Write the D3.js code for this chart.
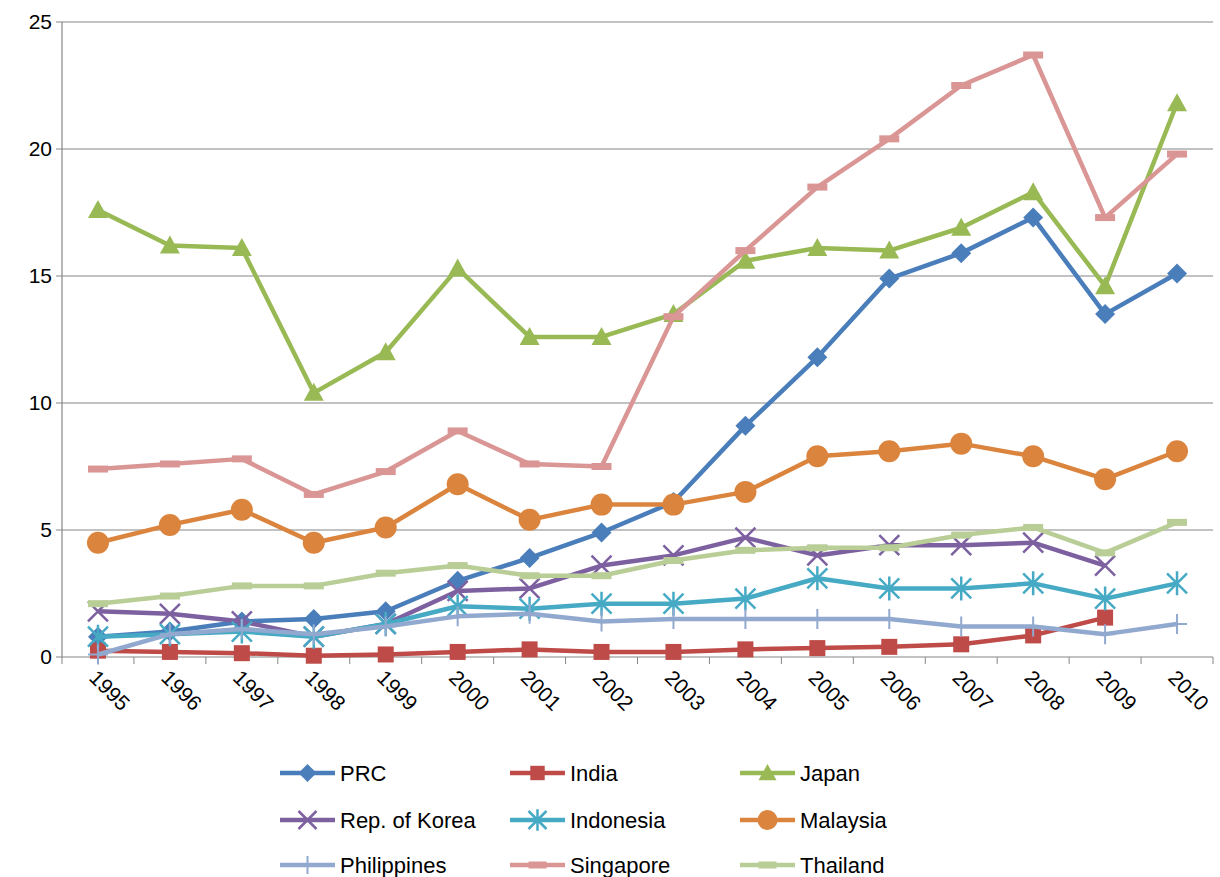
<!DOCTYPE html><html><head><meta charset="utf-8">
<script src="https://cdn.jsdelivr.net/npm/d3@7"></script>
<style>body{margin:0;background:#fff}text{font-family:"Liberation Sans",Arial,sans-serif;fill:#000}</style></head><body>
<svg id="c" width="1220" height="877"></svg>
<script>
const years=["1995","1996","1997","1998","1999","2000","2001","2002","2003","2004","2005","2006","2007","2008","2009","2010"];
const yTicks=[0,5,10,15,20,25];
const prc=[0.8,1.0,1.4,1.5,1.8,3.0,3.9,4.9,6.1,9.1,11.8,14.9,15.9,17.3,13.5,15.1];
const india=[0.25,0.2,0.15,0.05,0.1,0.2,0.3,0.2,0.2,0.3,0.35,0.4,0.5,0.85,1.55,null];
const japan=[17.6,16.2,16.1,10.4,12.0,15.3,12.6,12.6,13.5,15.6,16.1,16.0,16.9,18.3,14.6,21.8];
const korea=[1.8,1.7,1.4,0.8,1.3,2.6,2.7,3.6,4.0,4.7,4.0,4.4,4.4,4.5,3.6,null];
const indonesia=[0.8,0.9,1.0,0.8,1.3,2.0,1.9,2.1,2.1,2.3,3.1,2.7,2.7,2.9,2.3,2.9];
const malaysia=[4.5,5.2,5.8,4.5,5.1,6.8,5.4,6.0,6.0,6.5,7.9,8.1,8.4,7.9,7.0,8.1];
const philippines=[0.1,0.9,1.1,0.9,1.2,1.6,1.7,1.4,1.5,1.5,1.5,1.5,1.2,1.2,0.9,1.3];
const singapore=[7.4,7.6,7.8,6.4,7.3,8.9,7.6,7.5,13.4,16.0,18.5,20.4,22.5,23.7,17.3,19.8];
const thailand=[2.1,2.4,2.8,2.8,3.3,3.6,3.2,3.2,3.8,4.2,4.3,4.3,4.8,5.1,4.1,5.3];
const series=[
 {name:"PRC",v:prc,c:"#4a7ebb",m:"diamond"},
 {name:"India",v:india,c:"#be4b48",m:"square"},
 {name:"Japan",v:japan,c:"#98b954",m:"triangle"},
 {name:"Rep. of Korea",v:korea,c:"#7d60a0",m:"x"},
 {name:"Indonesia",v:indonesia,c:"#46aac5",m:"star"},
 {name:"Malaysia",v:malaysia,c:"#db843d",m:"circle"},
 {name:"Philippines",v:philippines,c:"#92a9cf",m:"plus"},
 {name:"Singapore",v:singapore,c:"#d99694",m:"dash"},
 {name:"Thailand",v:thailand,c:"#b9cd96",m:"dash"}];
const svg=d3.select("#c");
const L=62,R=1213,T=22,B=657;
const x=d3.scaleBand().domain(years).range([L,R]);
const y=d3.scaleLinear().domain([0,25]).range([B,T]);
const g=svg.append("g");
yTicks.forEach(t=>{ if(t>0) g.append("line").attr("x1",L).attr("x2",R).attr("y1",y(t)).attr("y2",y(t)).attr("stroke","#868686").attr("stroke-width",1.2);});
g.append("line").attr("x1",L).attr("x2",L).attr("y1",T).attr("y2",B).attr("stroke","#868686").attr("stroke-width",1.2);
g.append("line").attr("x1",L).attr("x2",R).attr("y1",B).attr("y2",B).attr("stroke","#868686").attr("stroke-width",1.2);
yTicks.forEach(t=>{g.append("line").attr("x1",L-6).attr("x2",L).attr("y1",y(t)).attr("y2",y(t)).attr("stroke","#868686");
 g.append("text").attr("x",L-10).attr("y",y(t)+7).attr("text-anchor","end").attr("font-size",21).text(t);});
years.concat(["_"]).forEach((yr,i)=>{const xx=L+i*x.bandwidth();g.append("line").attr("x1",xx).attr("x2",xx).attr("y1",B).attr("y2",B+7).attr("stroke","#868686");});
years.forEach(yr=>{const cx=x(yr)+x.bandwidth()/2;
 g.append("text").attr("transform",`translate(${cx-10},${B+22}) rotate(45)`).attr("font-size",21).text(yr);});
function marker(sel,m,c,s){
 if(m==="diamond") sel.append("path").attr("d",`M0,${-s}L${s},0L0,${s}L${-s},0Z`).attr("fill",c);
 else if(m==="square") sel.append("rect").attr("x",-s*0.8).attr("y",-s*0.8).attr("width",s*1.6).attr("height",s*1.6).attr("fill",c);
 else if(m==="triangle") sel.append("path").attr("d",`M0,${-s}L${s},${s*0.8}L${-s},${s*0.8}Z`).attr("fill",c);
 else if(m==="circle") sel.append("circle").attr("r",s).attr("fill",c);
 else if(m==="x") sel.append("path").attr("d",`M${-s},${-s}L${s},${s}M${-s},${s}L${s},${-s}`).attr("stroke",c).attr("stroke-width",2.5);
 else if(m==="star") sel.append("path").attr("d",`M${-s},${-s}L${s},${s}M${-s},${s}L${s},${-s}M0,${-s*1.2}L0,${s*1.2}`).attr("stroke",c).attr("stroke-width",2.5);
 else if(m==="plus") sel.append("path").attr("d",`M${-s},0L${s},0M0,${-s}L0,${s}`).attr("stroke",c).attr("stroke-width",2);
 else if(m==="dash") sel.append("path").attr("d",`M${-s},0L${s},0`).attr("stroke",c).attr("stroke-width",7);
}
const line=d3.line().defined(d=>d.v!=null).x(d=>x(d.k)+x.bandwidth()/2).y(d=>y(d.v));
series.forEach(s=>{const data=years.map((k,i)=>({k,v:s.v[i]}));
 g.append("path").datum(data).attr("d",line).attr("fill","none").attr("stroke",s.c).attr("stroke-width",4.5).attr("stroke-linejoin","round");
 data.filter(d=>d.v!=null).forEach(d=>marker(g.append("g").attr("transform",`translate(${x(d.k)+x.bandwidth()/2},${y(d.v)})`),s.m,s.c,s.m==="circle"?11:10));
});
const lx=[280,510,740],ly=[773,820,865];
series.forEach((s,i)=>{const gx=lx[i%3],gy=ly[Math.floor(i/3)];
 g.append("line").attr("x1",gx).attr("x2",gx+55).attr("y1",gy).attr("y2",gy).attr("stroke",s.c).attr("stroke-width",4.5);
 marker(g.append("g").attr("transform",`translate(${gx+27.5},${gy})`),s.m,s.c,s.m==="circle"?10:9);
 g.append("text").attr("x",gx+60).attr("y",gy+8).attr("font-size",22).text(s.name);});
</script></body></html>
